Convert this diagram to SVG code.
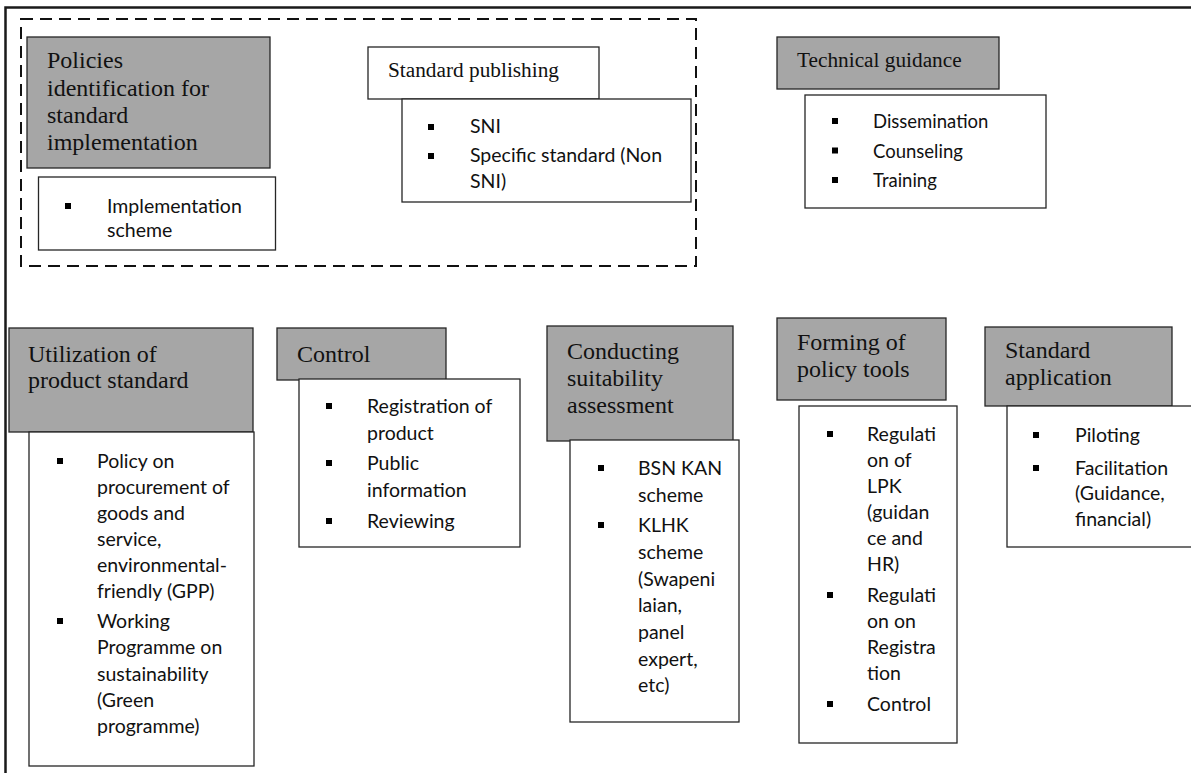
<svg xmlns="http://www.w3.org/2000/svg" width="1191" height="773" viewBox="0 0 1191 773">
<style>
.hdr{fill:#a6a6a6;stroke:#262626;stroke-width:1.3}
.box{fill:#ffffff;stroke:#262626;stroke-width:1.3}
.ser{font-family:"Liberation Serif","Times New Roman",serif;font-size:24px;fill:#111}
.ser2{font-family:"Liberation Serif","Times New Roman",serif;font-size:21.3px;fill:#111}
.sans{font-family:Lato,"Liberation Sans",sans-serif;font-size:19.5px;fill:#111}
.sans2{font-family:Lato,"Liberation Sans",sans-serif;font-size:18.5px;fill:#111}
.bul{fill:#000}
</style>
<rect width="1191" height="773" fill="#ffffff"/>
<g id="frame">
<path d="M5.5,773 V7.5 H1191" fill="none" stroke="#1a1a1a" stroke-width="2.5"/>
<rect x="21" y="19" width="675" height="247" fill="none" stroke="#111" stroke-width="2" stroke-dasharray="12 7"/>
</g>
<g id="connectors"></g>

<g id="policies">
<rect class="hdr" x="27" y="37" width="243" height="131"/>
<text class="ser" x="47"><tspan x="47" y="68">Policies</tspan><tspan x="47" y="95.5">identification for</tspan><tspan x="47" y="123">standard</tspan><tspan x="47" y="150">implementation</tspan></text>
<rect class="box" x="38.5" y="177" width="237" height="73"/>
<rect class="bul" x="65" y="203" width="6" height="6"/>
<text class="sans"><tspan x="107" y="213">Implementation</tspan><tspan x="107" y="237">scheme</tspan></text>
</g>

<g id="publishing">
<rect class="box" x="368" y="47" width="231" height="52"/>
<text class="ser2" x="388" y="77">Standard publishing</text>
<rect class="box" x="402" y="99" width="289" height="103"/>
<rect class="bul" x="428" y="124" width="6" height="6"/>
<rect class="bul" x="428" y="153" width="6" height="6"/>
<text class="sans"><tspan x="470" y="133">SNI</tspan><tspan x="470" y="162">Specific standard (Non</tspan><tspan x="470" y="188">SNI)</tspan></text>
</g>

<g id="technical">
<rect class="hdr" x="777" y="37" width="222" height="52"/>
<text class="ser2" x="797" y="67">Technical guidance</text>
<rect class="box" x="805" y="95" width="241" height="113"/>
<rect class="bul" x="832" y="118" width="6" height="6"/>
<rect class="bul" x="832" y="147.5" width="6" height="6"/>
<rect class="bul" x="832" y="177" width="6" height="6"/>
<text class="sans2"><tspan x="873" y="128">Dissemination</tspan><tspan x="873" y="157.5">Counseling</tspan><tspan x="873" y="187">Training</tspan></text>
</g>

<g id="utilization">
<rect class="hdr" x="9" y="328" width="244" height="104"/>
<text class="ser"><tspan x="28" y="362">Utilization of</tspan><tspan x="28" y="388">product standard</tspan></text>
<rect class="box" x="29" y="432" width="225" height="334"/>
<rect class="bul" x="57" y="458" width="6" height="6"/>
<rect class="bul" x="57" y="618" width="6" height="6"/>
<text class="sans"><tspan x="97" y="468">Policy on</tspan><tspan x="97" y="494">procurement of</tspan><tspan x="97" y="520">goods and</tspan><tspan x="97" y="546">service,</tspan><tspan x="97" y="572">environmental-</tspan><tspan x="97" y="598">friendly (GPP)</tspan><tspan x="97" y="628">Working</tspan><tspan x="97" y="654.3">Programme on</tspan><tspan x="97" y="680.5">sustainability</tspan><tspan x="97" y="706.8">(Green</tspan><tspan x="97" y="733">programme)</tspan></text>
</g>

<g id="control">
<rect class="hdr" x="277" y="328" width="169" height="52"/>
<text class="ser" x="297" y="362">Control</text>
<rect class="box" x="299" y="379" width="221" height="168"/>
<rect class="bul" x="326" y="403" width="6" height="6"/>
<rect class="bul" x="326" y="460" width="6" height="6"/>
<rect class="bul" x="326" y="518" width="6" height="6"/>
<text class="sans"><tspan x="367" y="413">Registration of</tspan><tspan x="367" y="440">product</tspan><tspan x="367" y="470">Public</tspan><tspan x="367" y="497">information</tspan><tspan x="367" y="528">Reviewing</tspan></text>
</g>

<g id="conducting">
<rect class="hdr" x="547" y="326" width="186" height="115"/>
<text class="ser"><tspan x="567" y="358.5">Conducting</tspan><tspan x="567" y="385.5">suitability</tspan><tspan x="567" y="412.5">assessment</tspan></text>
<rect class="box" x="570" y="440" width="169" height="282"/>
<rect class="bul" x="598" y="465" width="6" height="6"/>
<rect class="bul" x="598" y="522" width="6" height="6"/>
<text class="sans"><tspan x="638" y="475">BSN KAN</tspan><tspan x="638" y="502">scheme</tspan><tspan x="638" y="532">KLHK</tspan><tspan x="638" y="559">scheme</tspan><tspan x="638" y="586">(Swapeni</tspan><tspan x="638" y="612">laian,</tspan><tspan x="638" y="639">panel</tspan><tspan x="638" y="666">expert,</tspan><tspan x="638" y="692">etc)</tspan></text>
</g>

<g id="forming">
<rect class="hdr" x="777" y="318" width="169" height="82"/>
<text class="ser"><tspan x="797" y="350">Forming of</tspan><tspan x="797" y="377">policy tools</tspan></text>
<rect class="box" x="799" y="406" width="158" height="337"/>
<rect class="bul" x="827" y="431" width="6" height="6"/>
<rect class="bul" x="827" y="592" width="6" height="6"/>
<rect class="bul" x="827" y="701" width="6" height="6"/>
<text class="sans"><tspan x="867" y="441">Regulati</tspan><tspan x="867" y="467">on of</tspan><tspan x="867" y="493">LPK</tspan><tspan x="867" y="519">(guidan</tspan><tspan x="867" y="545">ce and</tspan><tspan x="867" y="571">HR)</tspan><tspan x="867" y="602">Regulati</tspan><tspan x="867" y="628">on on</tspan><tspan x="867" y="654">Registra</tspan><tspan x="867" y="680">tion</tspan><tspan x="867" y="711">Control</tspan></text>
</g>

<g id="application">
<rect class="hdr" x="985" y="327" width="187" height="79"/>
<text class="ser"><tspan x="1005" y="358">Standard</tspan><tspan x="1005" y="385">application</tspan></text>
<rect class="box" x="1007" y="406" width="200" height="141"/>
<rect class="bul" x="1033" y="432" width="6" height="6"/>
<rect class="bul" x="1033" y="465" width="6" height="6"/>
<text class="sans"><tspan x="1075" y="442">Piloting</tspan><tspan x="1075" y="475">Facilitation</tspan><tspan x="1075" y="500">(Guidance,</tspan><tspan x="1075" y="526">financial)</tspan></text>
</g>
</svg>
